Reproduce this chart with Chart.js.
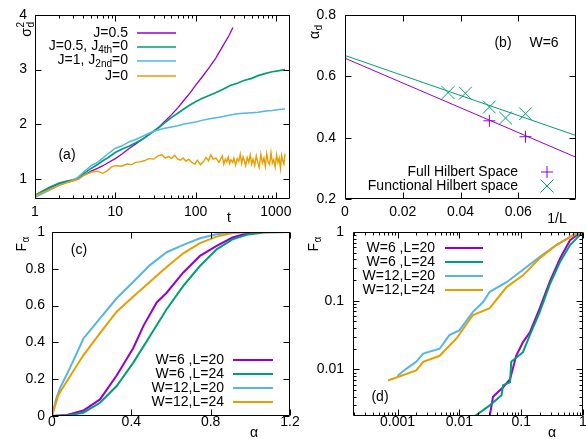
<!DOCTYPE html>
<html>
<head>
<meta charset="utf-8">
<script src="https://cdn.jsdelivr.net/npm/chart.js@4.4.1/dist/chart.umd.min.js"></script>
<style>
  body { margin: 0; background: #fff; }
  canvas { position: absolute; left: 0; top: 0; }
</style>
</head>
<body>
<canvas id="graficoA" width="586" height="439"></canvas>
<canvas id="graficoB" width="586" height="439"></canvas>
<canvas id="graficoC" width="586" height="439"></canvas>
<canvas id="graficoD" width="586" height="439"></canvas>
<script>
// ---- painel (a): sigma_d^2 x t ----
const tJ05 = [1, 1.5, 2, 2.5, 3, 3.5, 4, 5, 6, 7, 8, 10, 12, 15, 18, 22, 26, 30, 35, 40, 50, 60, 70, 85, 100, 120, 150, 180, 220, 260, 292];
const sJ05 = [0.69, 0.83, 0.91, 0.95, 0.97, 1.0, 1.06, 1.14, 1.19, 1.24, 1.29, 1.37, 1.45, 1.56, 1.64, 1.73, 1.81, 1.87, 1.95, 2.03, 2.17, 2.30, 2.42, 2.57, 2.71, 2.86, 3.05, 3.22, 3.44, 3.62, 3.77];

const tLongo = [1, 1.5, 2, 2.5, 3, 3.5, 4, 5, 6, 7, 8, 10, 12, 15, 18, 22, 26, 30, 35, 40, 50, 60, 70, 85, 100, 120, 150, 180, 220, 270, 330, 400, 500, 600, 750, 900, 1100, 1300];
const sJ4th = [0.70, 0.84, 0.92, 0.96, 0.98, 1.02, 1.09, 1.19, 1.26, 1.33, 1.38, 1.48, 1.54, 1.60, 1.66, 1.73, 1.80, 1.87, 1.94, 2.01, 2.12, 2.20, 2.27, 2.35, 2.41, 2.47, 2.53, 2.58, 2.64, 2.71, 2.75, 2.80, 2.84, 2.89, 2.93, 2.96, 2.98, 3.00];
const sJ2nd = [0.66, 0.79, 0.88, 0.93, 0.97, 1.04, 1.12, 1.24, 1.30, 1.38, 1.45, 1.56, 1.60, 1.68, 1.72, 1.78, 1.83, 1.87, 1.90, 1.92, 1.95, 1.97, 2.00, 2.02, 2.04, 2.07, 2.10, 2.12, 2.14, 2.17, 2.19, 2.20, 2.21, 2.22, 2.24, 2.25, 2.27, 2.28];

const tJ0 = [1, 1.5, 2, 2.5, 3, 3.5, 4, 5, 6, 7, 8, 9, 10, 12, 14, 16, 18, 20, 23, 26, 30, 34, 38, 42, 46, 50, 55, 60, 65, 70, 76, 82, 90, 98, 105, 115, 125, 135, 145, 155, 165, 180, 195,
  205, 215, 225, 235, 245, 255, 265, 275, 290, 300, 315, 330, 345, 360, 375, 390, 405, 420, 440, 460, 480, 500, 520, 545, 570, 595, 620, 650, 680, 710, 740, 770, 800, 835, 870, 905, 940, 980, 1020, 1060, 1100, 1140, 1180, 1220, 1260, 1300];
const sJ0 = [0.69, 0.80, 0.88, 0.93, 0.96, 1.00, 1.06, 1.12, 1.14, 1.10, 1.15, 1.22, 1.24, 1.23, 1.27, 1.26, 1.30, 1.31, 1.33, 1.37, 1.36, 1.42, 1.44, 1.38, 1.41, 1.37, 1.43, 1.36, 1.34, 1.38, 1.32, 1.36, 1.30, 1.27, 1.34, 1.26, 1.31, 1.39, 1.33, 1.44, 1.36, 1.38, 1.30,
  1.36, 1.42, 1.27, 1.36, 1.31, 1.40, 1.28, 1.35, 1.30, 1.38, 1.25, 1.37, 1.32, 1.45, 1.28, 1.40, 1.33, 1.24, 1.39, 1.30, 1.44, 1.27, 1.36, 1.24, 1.42, 1.30, 1.21, 1.45, 1.29, 1.38, 1.23, 1.46, 1.31, 1.26, 1.48, 1.29, 1.35, 1.22, 1.44, 1.30, 1.38, 1.19, 1.43, 1.33, 1.27, 1.46];

const ticksTA = [1, 10, 100, 1000];
const rotTA = ['1', '10', '100', '1000'];
const ticksSA = [1, 2, 3, 4];
const rotSA = ['1', '2', '3', '4'];

// ---- painel (b): alpha_d x 1/L ----
const fullX = [0.05, 0.0625];
const fullY = [0.455, 0.403];
const funcX = [0.0357, 0.0417, 0.05, 0.0556, 0.0625];
const funcY = [0.547, 0.545, 0.500, 0.464, 0.478];
const ajusteX = [0, 0.08];
const ajusteFull = [0.659, 0.336];
const ajusteFunc = [0.668, 0.407];
const ticksLB = [0, 0.02, 0.04, 0.06];
const rotLB = ['0', '0.02', '0.04', '0.06'];
const ticksAB = [0.2, 0.4, 0.6, 0.8];
const rotAB = ['0.2', '0.4', '0.6', '0.8'];

// ---- painel (c): F_alpha x alpha ----
const aW6L20 = [0, 0.076, 0.158, 0.242, 0.326, 0.41, 0.461, 0.528, 0.578, 0.662, 0.746, 0.83, 0.91, 0.99, 1.05];
const fW6L20 = [0, 0.005, 0.03, 0.09, 0.22, 0.37, 0.49, 0.617, 0.67, 0.78, 0.87, 0.924, 0.97, 0.995, 1.0];
const aW6L24 = [0, 0.076, 0.158, 0.242, 0.326, 0.41, 0.494, 0.578, 0.662, 0.746, 0.83, 0.91, 0.99, 1.07, 1.2];
const fW6L24 = [0, 0.003, 0.018, 0.072, 0.163, 0.29, 0.435, 0.58, 0.707, 0.815, 0.906, 0.96, 0.987, 0.997, 1.0];
const aW12L20 = [0, 0.02, 0.04, 0.09, 0.158, 0.242, 0.326, 0.41, 0.494, 0.578, 0.662, 0.746, 0.83, 0.91, 0.95, 1.2];
const fW12L20 = [0, 0.09, 0.15, 0.26, 0.42, 0.53, 0.64, 0.73, 0.82, 0.89, 0.93, 0.966, 0.988, 0.997, 1.0, 1.0];
const aW12L24 = [0, 0.032, 0.074, 0.158, 0.242, 0.326, 0.41, 0.494, 0.578, 0.662, 0.746, 0.83, 0.91, 1.0, 1.1];
const fW12L24 = [0, 0.114, 0.187, 0.33, 0.45, 0.567, 0.65, 0.73, 0.81, 0.884, 0.94, 0.975, 0.995, 1.0, 1.0];
const ticksAC = [0, 0.4, 0.8, 1.2];
const rotAC = ['0', '0.4', '0.8', '1.2'];
const ticksFC = [0, 0.2, 0.4, 0.6, 0.8, 1];
const rotFC = ['0', '0.2', '0.4', '0.6', '0.8', '1'];

// ---- painel (d): mesmo em log-log ----
const aLogW6L20 = [0.031, 0.035, 0.051, 0.066, 0.083, 0.107, 0.138, 0.2, 0.288, 0.427, 0.617, 0.89, 1];
const fLogW6L20 = [0.0021, 0.004, 0.0055, 0.0072, 0.0158, 0.025, 0.0347, 0.078, 0.186, 0.417, 0.76, 0.966, 1];
const aLogW6L24 = [0.0178, 0.031, 0.048, 0.051, 0.066, 0.069, 0.107, 0.138, 0.2, 0.288, 0.427, 0.617, 0.89, 1];
const fLogW6L24 = [0.0021, 0.003, 0.0042, 0.0059, 0.0065, 0.0129, 0.0178, 0.0316, 0.069, 0.17, 0.37, 0.646, 0.90, 1];
const aLogW12L20 = [0.001, 0.00138, 0.002, 0.0026, 0.0048, 0.0069, 0.01, 0.0166, 0.024, 0.031, 0.058, 0.107, 0.2, 0.37, 0.69, 1];
const fLogW12L20 = [0.0081, 0.0102, 0.0129, 0.017, 0.02, 0.0316, 0.037, 0.069, 0.095, 0.135, 0.186, 0.282, 0.437, 0.646, 0.90, 1];
const aLogW12L24 = [0.0007, 0.002, 0.0026, 0.0048, 0.0089, 0.0166, 0.031, 0.058, 0.107, 0.2, 0.37, 0.69, 1.0];
const fLogW12L24 = [0.0069, 0.0097, 0.0129, 0.0158, 0.028, 0.062, 0.078, 0.158, 0.234, 0.417, 0.646, 0.90, 1.0];
const ticksAD = [0.001, 0.01, 0.1, 1];
const rotAD = ['0.001', '0.01', '0.1', '1'];
const ticksFD = [0.01, 0.1, 1];
const rotFD = ['0.01', '0.1', '1'];

const ROXO = '#9400d3', VERDE = '#009e73', AZUL = '#56b4e9', LARANJA = '#e69f00';
const FONTE = "'Liberation Sans', Arial, sans-serif";

function serie(xs, ys) {
  return xs.map((x, i) => ({ x: x, y: ys[i] }));
}

function linha(dados, cor, largura) {
  return { data: dados, showLine: true, borderColor: cor, borderWidth: largura, pointRadius: 0, tension: 0, fill: false };
}

// tamanho = espaco reservado ao eixo (largura do eixo y ou altura do eixo x)
function eixo(tipo, min, max, marcas, rotulos, pad, horizontal, tamanho) {
  return {
    type: tipo, min: min, max: max, bounds: 'data',
    grid: { display: false, drawTicks: false },
    border: { display: false },
    afterBuildTicks: (s) => { s.ticks = marcas.map(v => ({ value: v })); },
    afterFit: (s) => {
      if (horizontal) s.height = tamanho; else s.width = tamanho;
      s.paddingLeft = 0; s.paddingRight = 0; s.paddingTop = 0; s.paddingBottom = 0;
    },
    ticks: {
      autoSkip: false, maxRotation: 0, minRotation: 0, padding: pad, color: '#000',
      font: { family: FONTE, size: 14 },
      callback: (v, i) => rotulos[i]
    }
  };
}

function menores(min, max) {
  const lista = [];
  for (let e = Math.floor(Math.log10(min)); e <= Math.ceil(Math.log10(max)); e++) {
    for (let k = 2; k <= 9; k++) {
      const v = k * Math.pow(10, e);
      if (v > min && v < max) lista.push(v);
    }
  }
  return lista;
}

// moldura estilo gnuplot: caixa e marcas para dentro nos quatro lados
function moldura(chart, marcasX, marcasY, menX, menY) {
  const { ctx, chartArea: a, scales } = chart;
  ctx.save();
  ctx.strokeStyle = '#000';
  ctx.lineWidth = 1;
  ctx.beginPath();
  const l = Math.round(a.left) + 0.5, r = Math.round(a.right) - 0.5;
  const t = Math.round(a.top) + 0.5, b = Math.round(a.bottom) - 0.5;
  ctx.rect(l, t, r - l, b - t);
  const mx = (v, len) => {
    const p = Math.round(scales.x.getPixelForValue(v)) + 0.5;
    ctx.moveTo(p, b); ctx.lineTo(p, b - len);
    ctx.moveTo(p, t); ctx.lineTo(p, t + len);
  };
  const my = (v, len) => {
    const p = Math.round(scales.y.getPixelForValue(v)) + 0.5;
    ctx.moveTo(l, p); ctx.lineTo(l + len, p);
    ctx.moveTo(r, p); ctx.lineTo(r - len, p);
  };
  marcasX.forEach(v => mx(v, 6));
  marcasY.forEach(v => my(v, 6));
  menX.forEach(v => mx(v, 3));
  menY.forEach(v => my(v, 3));
  ctx.stroke();
  ctx.restore();
}

function texto(ctx, str, x, y, alinh, tam) {
  ctx.save();
  ctx.fillStyle = '#000';
  ctx.font = (tam || 14) + 'px ' + FONTE;
  ctx.textAlign = alinh || 'center';
  ctx.textBaseline = 'middle';
  ctx.fillText(str, x, y);
  ctx.restore();
}

// texto com partes normais, subscritas e sobrescritas, alinhado pela direita
function ricoDireita(ctx, partes, xDir, y) {
  ctx.save();
  ctx.fillStyle = '#000';
  ctx.textBaseline = 'middle';
  ctx.textAlign = 'left';
  let total = 0;
  partes.forEach(p => {
    ctx.font = (p[1] === 'n' ? 14 : 10) + 'px ' + FONTE;
    total += ctx.measureText(p[0]).width;
  });
  let x = xDir - total;
  partes.forEach(p => {
    ctx.font = (p[1] === 'n' ? 14 : 10) + 'px ' + FONTE;
    const dy = p[1] === 'sub' ? 4 : (p[1] === 'sup' ? -5 : 0);
    ctx.fillText(p[0], x, y + dy);
    x += ctx.measureText(p[0]).width;
  });
  ctx.restore();
}

// rotulo vertical: base com subscrito e sobrescrito opcional
function rotuloVertical(ctx, cx, cy, base, sub, sup) {
  ctx.save();
  ctx.translate(cx, cy);
  ctx.rotate(-Math.PI / 2);
  ctx.fillStyle = '#000';
  ctx.textBaseline = 'middle';
  ctx.textAlign = 'left';
  ctx.font = '14px ' + FONTE;
  const w = ctx.measureText(base).width;
  ctx.fillText(base, -w, 0);
  ctx.font = '10px ' + FONTE;
  if (sub) ctx.fillText(sub, 0.5, 4);
  if (sup) ctx.fillText(sup, 0.5, -6);
  ctx.restore();
}

function amostra(ctx, x1, x2, y, cor, larg) {
  ctx.save();
  ctx.strokeStyle = cor;
  ctx.lineWidth = larg;
  ctx.beginPath();
  ctx.moveTo(x1, y); ctx.lineTo(x2, y);
  ctx.stroke();
  ctx.restore();
}

// area = [esquerda, topo, direita, base] da area de plotagem
function opcoes(area, escX, escY) {
  return {
    responsive: false,
    animation: false,
    layout: { padding: { left: 0, top: area[1], right: 586 - area[2], bottom: 0 } },
    plugins: { legend: { display: false }, tooltip: { enabled: false } },
    scales: { x: escX, y: escY }
  };
}

function desenhaA() {
  const area = [35, 15, 290, 199];
  new Chart(document.getElementById('graficoA'), {
    type: 'scatter',
    data: {
      datasets: [
        linha(serie(tJ0, sJ0), LARANJA, 1.4),
        linha(serie(tLongo, sJ2nd), AZUL, 1.5),
        linha(serie(tLongo, sJ4th), VERDE, 1.7),
        linha(serie(tJ05, sJ05), ROXO, 1.3)
      ]
    },
    options: opcoes(area,
      eixo('logarithmic', 1, 1500, ticksTA, rotTA, 5, true, 439 - area[3]),
      eixo('linear', 0.63, 4, ticksSA, rotSA, 8, false, area[0])),
    plugins: [{
      id: 'extrasA',
      afterDraw(chart) {
        const ctx = chart.ctx;
        moldura(chart, ticksTA, ticksSA, menores(1, 1500), []);
        rotuloVertical(ctx, 27, 28, '\u03c3', 'd', '2');
        texto(ctx, 't', 229, 218);
        texto(ctx, '(a)', 67, 155);
        ricoDireita(ctx, [['J=0.5', 'n']], 128, 33);
        ricoDireita(ctx, [['J=0.5, J', 'n'], ['4th', 'sub'], ['=0', 'n']], 128, 46);
        ricoDireita(ctx, [['J=1, J', 'n'], ['2nd', 'sub'], ['=0', 'n']], 128, 60);
        ricoDireita(ctx, [['J=0', 'n']], 128, 76);
        amostra(ctx, 137, 176, 33, ROXO, 1.3);
        amostra(ctx, 137, 176, 47, VERDE, 1.3);
        amostra(ctx, 137, 176, 61, AZUL, 1.3);
        amostra(ctx, 137, 176, 76, LARANJA, 1.3);
      }
    }]
  });
}

function desenhaB() {
  const area = [345, 15, 583, 199];
  new Chart(document.getElementById('graficoB'), {
    type: 'scatter',
    data: {
      datasets: [
        linha(serie(ajusteX, ajusteFull), ROXO, 1),
        linha(serie(ajusteX, ajusteFunc), VERDE, 1),
        { data: serie(fullX, fullY), pointStyle: 'cross', pointRadius: 6, borderColor: ROXO, borderWidth: 1, showLine: false },
        { data: serie(funcX, funcY), pointStyle: 'crossRot', pointRadius: 9, borderColor: VERDE, borderWidth: 1, showLine: false }
      ]
    },
    options: opcoes(area,
      eixo('linear', 0, 0.08, ticksLB, rotLB, 5, true, 439 - area[3]),
      eixo('linear', 0.2, 0.8, ticksAB, rotAB, 9, false, area[0])),
    plugins: [{
      id: 'extrasB',
      afterDraw(chart) {
        const ctx = chart.ctx;
        moldura(chart, ticksLB, ticksAB, [], []);
        rotuloVertical(ctx, 315, 31, '\u03b1', 'd', null);
        texto(ctx, '1/L', 557, 219);
        texto(ctx, '(b)', 503, 43);
        texto(ctx, 'W=6', 544, 43);
        ricoDireita(ctx, [['Full Hilbert Space', 'n']], 518, 172);
        ricoDireita(ctx, [['Functional Hilbert space', 'n']], 518, 186);
        ctx.save();
        ctx.lineWidth = 1;
        ctx.strokeStyle = ROXO;
        ctx.beginPath();
        ctx.moveTo(541, 172); ctx.lineTo(553, 172);
        ctx.moveTo(547, 166); ctx.lineTo(547, 178);
        ctx.stroke();
        ctx.strokeStyle = VERDE;
        ctx.beginPath();
        ctx.moveTo(540.5, 179.5); ctx.lineTo(553.5, 192.5);
        ctx.moveTo(553.5, 179.5); ctx.lineTo(540.5, 192.5);
        ctx.stroke();
        ctx.restore();
      }
    }]
  });
}

function desenhaC() {
  const area = [52, 232, 290, 416];
  new Chart(document.getElementById('graficoC'), {
    type: 'scatter',
    data: {
      datasets: [
        linha(serie(aW12L24, fW12L24), LARANJA, 2),
        linha(serie(aW12L20, fW12L20), AZUL, 2),
        linha(serie(aW6L24, fW6L24), VERDE, 2),
        linha(serie(aW6L20, fW6L20), ROXO, 2)
      ]
    },
    options: opcoes(area,
      eixo('linear', 0, 1.2, ticksAC, rotAC, -2, true, 439 - area[3]),
      eixo('linear', 0, 1, ticksFC, rotFC, 7, false, area[0])),
    plugins: [{
      id: 'extrasC',
      afterDraw(chart) {
        const ctx = chart.ctx;
        moldura(chart, ticksAC, ticksFC, [], []);
        rotuloVertical(ctx, 22, 243, 'F', '\u03b1', null);
        texto(ctx, '\u03b1', 254, 433);
        texto(ctx, '(c)', 79, 250);
        const nomes = ['W=6 ,L=20', 'W=6 ,L=24', 'W=12,L=20', 'W=12,L=24'];
        const cores = [ROXO, VERDE, AZUL, LARANJA];
        nomes.forEach((n, i) => {
          ricoDireita(ctx, [[n, 'n']], 224, 360 + i * 14);
          amostra(ctx, 233, 273, 360 + i * 14, cores[i], 2);
        });
      }
    }]
  });
}

function desenhaD() {
  const area = [353, 232, 583, 416];
  new Chart(document.getElementById('graficoD'), {
    type: 'scatter',
    data: {
      datasets: [
        linha(serie(aLogW12L24, fLogW12L24), LARANJA, 2),
        linha(serie(aLogW12L20, fLogW12L20), AZUL, 2),
        linha(serie(aLogW6L24, fLogW6L24), VERDE, 2),
        linha(serie(aLogW6L20, fLogW6L20), ROXO, 2)
      ]
    },
    options: opcoes(area,
      eixo('logarithmic', 1.9e-4, 1, ticksAD, rotAD, -2, true, 439 - area[3]),
      eixo('logarithmic', 0.0021, 1, ticksFD, rotFD, 9, false, area[0])),
    plugins: [{
      id: 'extrasD',
      afterDraw(chart) {
        const ctx = chart.ctx;
        moldura(chart, ticksAD, ticksFD, menores(1.9e-4, 1), menores(0.0021, 1));
        rotuloVertical(ctx, 314, 243, 'F', '\u03b1', null);
        texto(ctx, '\u03b1', 552, 433);
        texto(ctx, '(d)', 380, 397);
        const nomes = ['W=6 ,L=20', 'W=6 ,L=24', 'W=12,L=20', 'W=12,L=24'];
        const cores = [ROXO, VERDE, AZUL, LARANJA];
        nomes.forEach((n, i) => {
          ricoDireita(ctx, [[n, 'n']], 435, 248 + i * 14);
          amostra(ctx, 445, 483, 248 + i * 14, cores[i], 2);
        });
      }
    }]
  });
}

window.addEventListener('load', () => {
  desenhaA();
  desenhaB();
  desenhaC();
  desenhaD();
});
</script>
</body>
</html>
